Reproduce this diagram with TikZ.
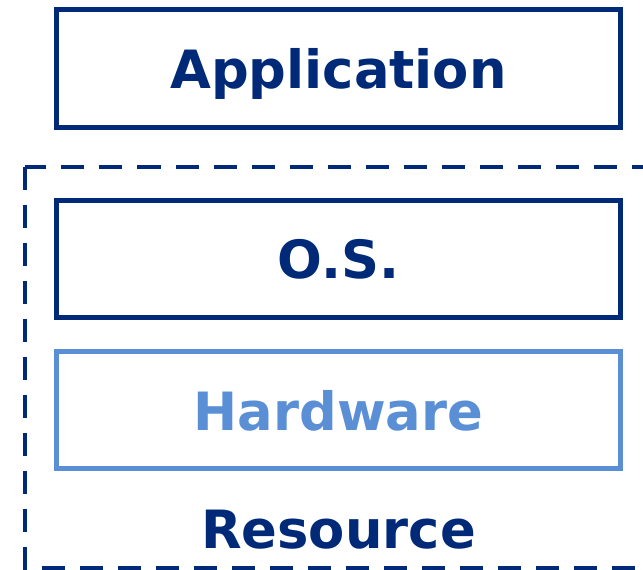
\documentclass[tikz,border=0pt]{standalone}
\usepackage{fontspec}
\setmainfont{DejaVu Sans}
\usepackage{tikz}

\definecolor{navy}{RGB}{0,42,120}
\definecolor{lightblue}{RGB}{90,143,214}

\begin{document}
\begin{tikzpicture}
  [x=0.025cm,y=-0.025cm,
   every node/.style={font=\fontsize{37.5}{40}\selectfont\bfseries,text depth=0pt},
   layerbox/.style={draw=navy,text=navy,line width=0.13cm,
     minimum width=14.1cm,minimum height=2.93cm,inner sep=0pt}]
  \clip (0,0) rectangle (643,570);
  \useasboundingbox (0,0) rectangle (643,570);

  \draw[navy,line width=0.12cm,dash pattern=on 0.575cm off 0.375cm]
    (25,167) rectangle (680,568);

  \node[layerbox] (app) at (338.5,68.5)  {Application};
  \node[layerbox] (os)  at (338.5,259)   {O.S.};
  \node[layerbox,draw=lightblue,text=lightblue] (hw) at (338.5,410) {Hardware};
  \node[text=navy] (res) at (338.5,529) {Resource};

\end{tikzpicture}
\end{document}
